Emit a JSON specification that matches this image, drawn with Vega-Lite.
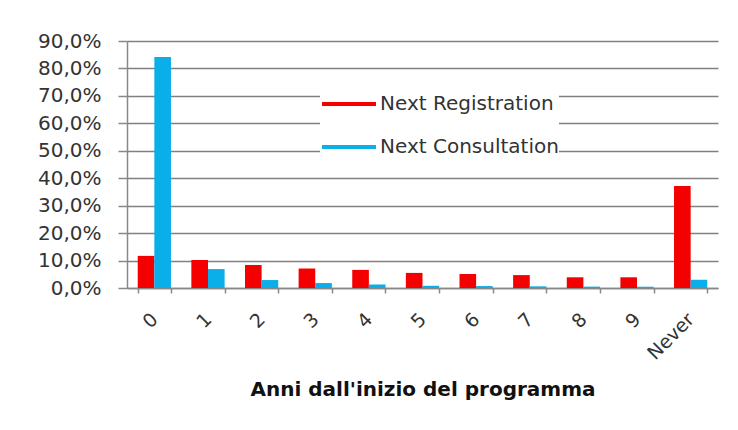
{
  "$schema": "https://vega.github.io/schema/vega-lite/v6.json",
  "width": 591,
  "height": 247,
  "autosize": {"type": "none"},
  "padding": {"left": 127, "top": 41, "right": 20, "bottom": 142},
  "background": "white",
  "config": {
    "font": "DejaVu Sans",
    "view": {"stroke": null}
  },
  "data": {
    "values": [
      {"anno": "0", "serie": "Next Registration", "valore": 0.117},
      {"anno": "0", "serie": "Next Consultation", "valore": 0.842},
      {"anno": "1", "serie": "Next Registration", "valore": 0.102},
      {"anno": "1", "serie": "Next Consultation", "valore": 0.069},
      {"anno": "2", "serie": "Next Registration", "valore": 0.084},
      {"anno": "2", "serie": "Next Consultation", "valore": 0.029},
      {"anno": "3", "serie": "Next Registration", "valore": 0.071},
      {"anno": "3", "serie": "Next Consultation", "valore": 0.018},
      {"anno": "4", "serie": "Next Registration", "valore": 0.066},
      {"anno": "4", "serie": "Next Consultation", "valore": 0.013},
      {"anno": "5", "serie": "Next Registration", "valore": 0.055},
      {"anno": "5", "serie": "Next Consultation", "valore": 0.008},
      {"anno": "6", "serie": "Next Registration", "valore": 0.051},
      {"anno": "6", "serie": "Next Consultation", "valore": 0.007},
      {"anno": "7", "serie": "Next Registration", "valore": 0.047},
      {"anno": "7", "serie": "Next Consultation", "valore": 0.006},
      {"anno": "8", "serie": "Next Registration", "valore": 0.039},
      {"anno": "8", "serie": "Next Consultation", "valore": 0.005},
      {"anno": "9", "serie": "Next Registration", "valore": 0.039},
      {"anno": "9", "serie": "Next Consultation", "valore": 0.005},
      {"anno": "Never", "serie": "Next Registration", "valore": 0.372},
      {"anno": "Never", "serie": "Next Consultation", "valore": 0.030}
    ]
  },
  "mark": {"type": "bar"},
  "encoding": {
    "x": {
      "field": "anno",
      "type": "nominal",
      "sort": null,
      "scale": {"paddingInner": 0.38, "paddingOuter": 0.2},
      "axis": {
        "title": "Anni dall'inizio del programma",
        "titleFontSize": 20,
        "titleFontWeight": "bold",
        "titleColor": "#111",
        "titlePadding": 16,
        "labelAngle": -45,
        "labelAlign": "right",
        "labelBaseline": "middle",
        "labelFontSize": 19,
        "labelColor": "#333",
        "labelPadding": 23,
        "tickBand": "extent",
        "tickColor": "#888",
        "tickWidth": 1.5,
        "tickSize": 5,
        "domainColor": "#888",
        "domainWidth": 1.5,
        "grid": false
      }
    },
    "xOffset": {
      "field": "serie",
      "type": "nominal",
      "sort": ["Next Registration", "Next Consultation"],
      "scale": {"paddingInner": 0, "paddingOuter": 0}
    },
    "y": {
      "field": "valore",
      "type": "quantitative",
      "scale": {"domain": [0, 0.9], "nice": false},
      "axis": {
        "title": null,
        "values": [0, 0.1, 0.2, 0.3, 0.4, 0.5, 0.6, 0.7, 0.8, 0.9],
        "labelExpr": "replace(format(datum.value * 100, '.1f'), '.', ',') + '%'",
        "labelFontSize": 20,
        "labelColor": "#333",
        "labelPadding": 17,
        "tickColor": "#888",
        "tickWidth": 1.5,
        "tickSize": 9,
        "domainColor": "#888",
        "domainWidth": 1.5,
        "gridColor": "#808080",
        "gridWidth": 1.5
      }
    },
    "color": {
      "field": "serie",
      "type": "nominal",
      "sort": ["Next Registration", "Next Consultation"],
      "scale": {"domain": ["Next Registration", "Next Consultation"], "range": ["#F50000", "#0AAEE8"]},
      "legend": {
        "title": null,
        "orient": "none",
        "legendX": 193,
        "legendY": 34,
        "fillColor": "white",
        "padding": 0,
        "symbolType": "stroke",
        "symbolSize": 2916,
        "symbolStrokeWidth": 4,
        "labelFontSize": 20,
        "labelColor": "#333",
        "labelOffset": 2,
        "rowPadding": 4,
        "labelLimit": 400,
        "encode": {
          "symbols": {
            "update": {
              "stroke": {"scale": "color", "field": "value"},
              "strokeWidth": {"value": 4}
            }
          }
        }
      }
    }
  }
}
